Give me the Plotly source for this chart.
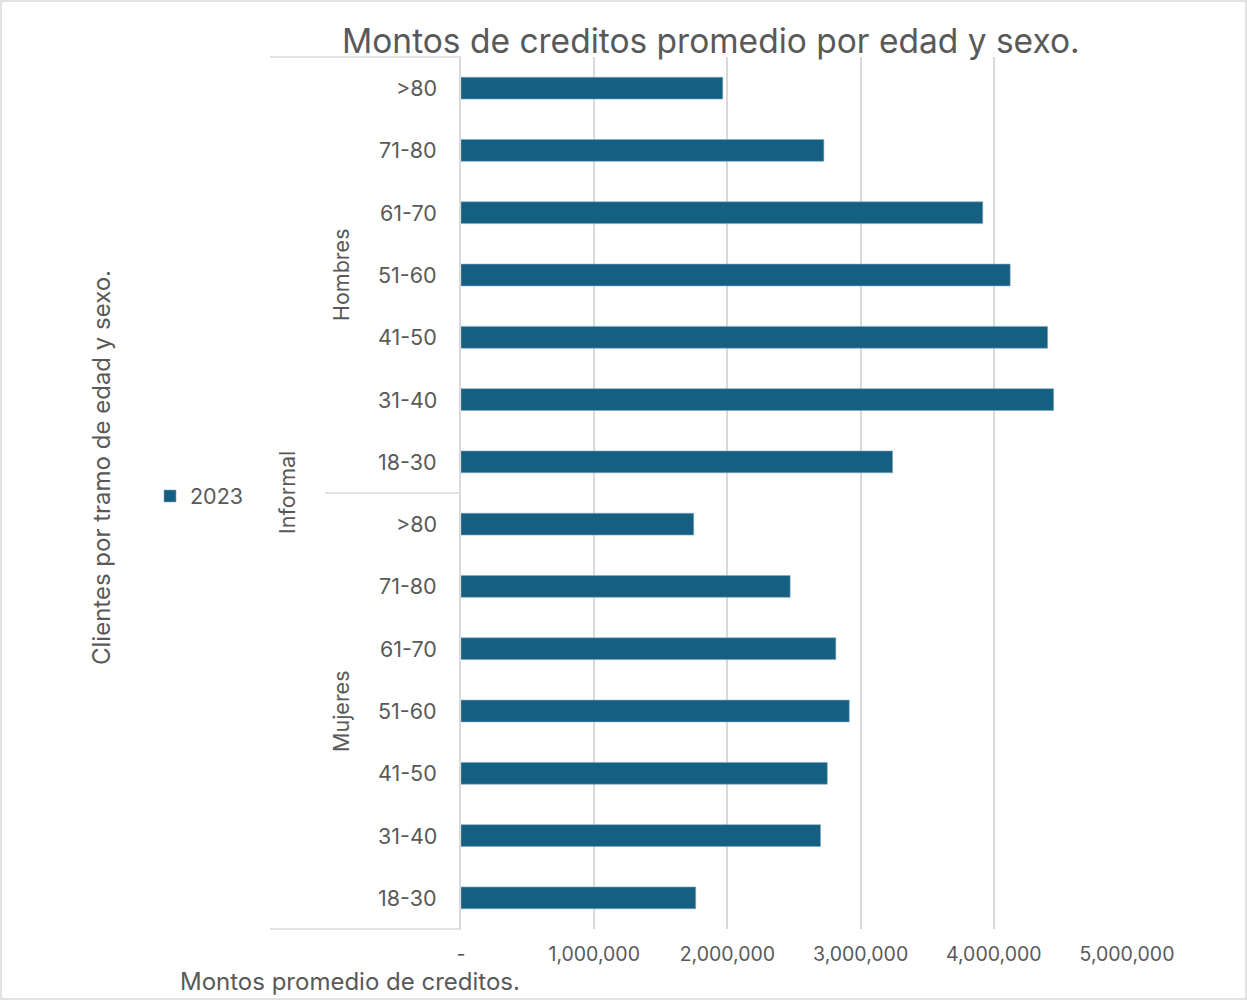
import plotly.graph_objects as go

# ---- data ----
age_groups = ["18-30", "31-40", "41-50", "51-60", "61-70", "71-80", ">80"]
sexes = ["Mujeres", "Hombres"]
segment = "Informal"
series_name = "2023"
mujeres_vals = [1762000, 2699000, 2750000, 2915000, 2814000, 2471000, 1747000]
hombres_vals = [3240000, 4449000, 4404000, 4123000, 3917000, 2724000, 1965000]
x_tickvals = [0, 1000000, 2000000, 3000000, 4000000, 5000000]
x_ticktext = ["-", "1,000,000", "2,000,000", "3,000,000", "4,000,000", "5,000,000"]

title_text = "Montos de creditos promedio por edad y sexo."
x_title = "Montos promedio de creditos."
y_title = "Clientes por tramo de edad y sexo."

BAR = "#156082"
GRID = "#d9d9d9"
TXT = "#595959"
FONT = "Inter"

cats = [f"{s}|{a}" for s in sexes for a in age_groups]
vals = mujeres_vals + hombres_vals

fig = go.Figure()
fig.add_trace(go.Bar(
    y=cats, x=vals, orientation="h", name=series_name,
    marker=dict(color=BAR, line=dict(color="#7fa6bb", width=0.6)),
    showlegend=True,
))

W, H = 1247, 1000
L, R, T, B = 461, 120, 57, 71
pw, ph = W - L - R, H - T - B

def px(xp):
    return (xp - L) / pw

def py(yp):
    return (H - B - yp) / ph

def f(size):
    return dict(size=size, color=TXT, family=FONT)

annotations = []
# age labels
for c in cats:
    age = c.split("|")[1]
    annotations.append(dict(x=0, xref="paper", y=c, yref="y", text=age,
                            xanchor="right", yanchor="middle", xshift=-22,
                            showarrow=False, font=f(21.5)))
# sex group labels
for label, yc in (("Hombres", 275), ("Mujeres", 711)):
    annotations.append(dict(x=px(341), y=py(yc), xref="paper", yref="paper", text=label,
                            textangle=-90, xanchor="center", yanchor="middle",
                            showarrow=False, font=f(21.5)))
annotations.append(dict(x=px(287), y=py(493), xref="paper", yref="paper", text=segment,
                        textangle=-90, xanchor="center", yanchor="middle",
                        showarrow=False, font=f(21.5)))
# title
annotations.append(dict(x=px(710.5), y=py(41), xref="paper", yref="paper", text=title_text,
                        showarrow=False, xanchor="center", yanchor="middle", font=f(33.5)))
# axis titles
annotations.append(dict(x=px(101), y=py(468), xref="paper", yref="paper", text=y_title,
                        textangle=-90, xanchor="center", yanchor="middle",
                        showarrow=False, font=f(24)))
annotations.append(dict(x=px(349.5), y=py(981), xref="paper", yref="paper", text=x_title,
                        xanchor="center", yanchor="middle", showarrow=False, font=f(24)))

line = dict(color=GRID, width=1.5)
shapes = [
    dict(type="line", xref="paper", yref="paper", x0=px(270), x1=0, y0=1, y1=1, line=line),
    dict(type="line", xref="paper", yref="paper", x0=px(270), x1=0, y0=0, y1=0, line=line),
    dict(type="line", xref="paper", yref="paper", x0=px(325), x1=0, y0=0.5, y1=0.5, line=line),
    dict(type="rect", xref="paper", yref="paper", x0=px(1), x1=px(1246), y0=py(999), y1=py(1),
         line=dict(color=GRID, width=1.5)),
]

fig.update_layout(
    width=W, height=H,
    margin=dict(l=L, r=R, t=T, b=B),
    paper_bgcolor="white", plot_bgcolor="white",
    bargap=0.65,
    font=dict(family=FONT, color=TXT),
    xaxis=dict(range=[0, 5000000], tickvals=x_tickvals, ticktext=x_ticktext,
               showgrid=True, gridcolor=GRID, gridwidth=1.5, zeroline=False,
               showline=False, tickfont=f(19.5),
               ticks="", ticklabelstandoff=11, fixedrange=True),
    yaxis=dict(type="category", categoryorder="array", categoryarray=cats,
               showticklabels=False, showgrid=False, zeroline=False,
               showline=True, linecolor=GRID, linewidth=1.5, ticks=""),
    legend=dict(x=px(150), y=py(496), xanchor="left", yanchor="middle",
                font=f(21.5), bgcolor="rgba(0,0,0,0)"),
    annotations=annotations,
    shapes=shapes,
)

fig.write_html("out.html")
